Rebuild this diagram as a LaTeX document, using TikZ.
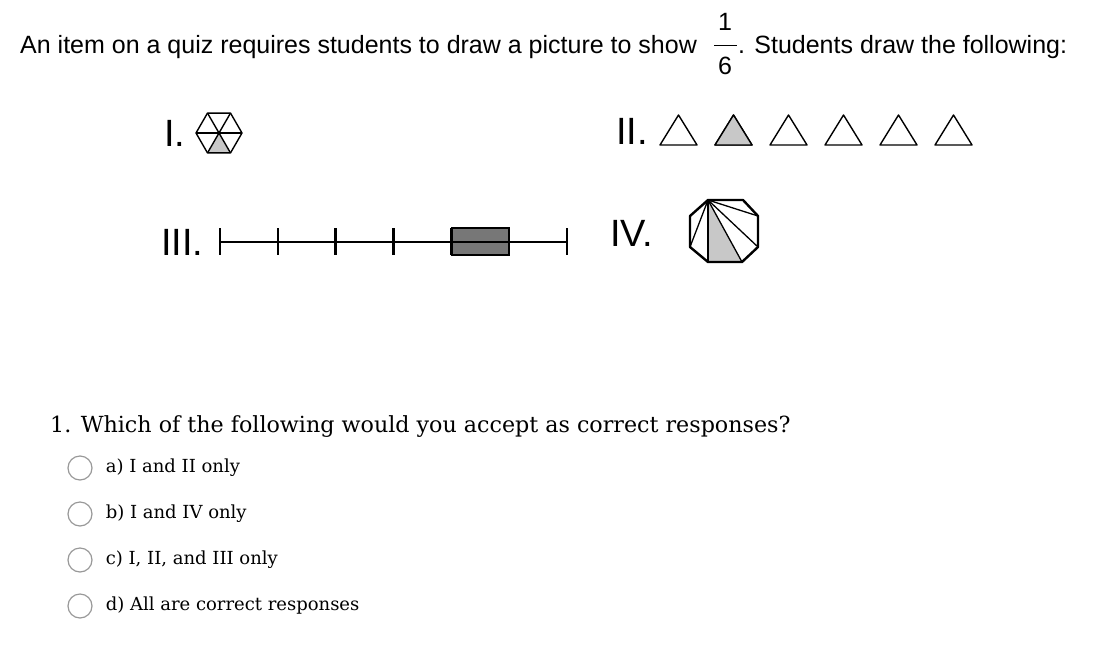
\documentclass[tikz,border=0pt]{standalone}
\usepackage{fontspec}
\setmainfont{Liberation Sans}
\newfontfamily\quizfont{DejaVu Serif}
\usetikzlibrary{positioning,calc}
\definecolor{lightshade}{HTML}{C8C8C8}
\definecolor{darkshade}{HTML}{777777}
\tikzstyle{fig} = [draw, line width=1.4pt, line join=round]
\tikzstyle{numeral} = [font=\fontsize{38}{38}\selectfont, inner sep=0pt, anchor=west]
\tikzstyle{txt} = [font=\fontsize{25}{28}\selectfont, inner sep=0pt, anchor=base west]
\tikzstyle{question} = [font=\quizfont\fontsize{22.2}{24}\selectfont, inner sep=0pt, anchor=base west]
\tikzstyle{radio} = [circle, draw=black!40, line width=1.2pt, minimum size=24pt, inner sep=0pt]
\tikzstyle{answer} = [font=\quizfont\fontsize{18}{20}\selectfont, inner sep=0pt, anchor=west]
\tikzset{>=latex}

\begin{document}
\begin{tikzpicture}[x=1pt,y=-1pt]
    \useasboundingbox (0,0) rectangle (1099,656);
    % the prompt
    \node [txt] (intro) at (20,53) {An item on a quiz requires students to draw a picture to show};
    \node [font=\fontsize{25}{28}\selectfont, inner sep=0pt] (num) at (725,22) {1};
    \draw [line width=1pt] (714,45) coordinate (fl) -- (737,45) coordinate (fr);
    \node [font=\fontsize{25}{28}\selectfont, inner sep=0pt] (den) at (725,66) {6};
    \node [txt] (rest) at (738,53) {. Students draw the following:};
    % I. hexagon
    \node [numeral] (one) at (164,133) {I.};
    \coordinate (h) at (219,133);
    \fill [lightshade] (h) -- ++(60:23) -- ($(h)+(120:23)$) -- cycle;
    \draw [fig] (h) ++(0:23) \foreach \a in {60,120,...,360} { -- ($(h)+(\a:23)$) } -- cycle;
    \foreach \a in {0,60,120} \draw [fig] ($(h)+(\a:23)$) -- ($(h)+(\a+180:23)$);
    % II. triangles
    \node [numeral] (two) at (616,131) {II.};
    \foreach \i in {0,...,5} {
      \draw [fig] (660+55*\i,145) coordinate (t\i) -- ++(37,0) -- ++(-18.5,-30) -- cycle;
    }
    \draw [fig, fill=lightshade] (t1) -- ++(37,0) -- ++(-18.5,-30) -- cycle;
    % III. number line
    \node [numeral] (three) at (161,242) {III.};
    \draw [fill=darkshade, line width=1.4pt] (452,228) rectangle (509,255);
    \draw [line width=2pt] (220,242) coordinate (la) -- (567,242) coordinate (lb);
    \foreach \i in {0,...,6} \draw [line width=2.4pt] (220+57.83*\i,228) -- ++(0,27);
    % IV. octagon
    \node [numeral] (four) at (610,233) {IV.};
    \coordinate (v1) at (708,200); \coordinate (v2) at (743,200);
    \coordinate (v3) at (758,216); \coordinate (v4) at (758,247);
    \coordinate (v5) at (742,262); \coordinate (v6) at (708,262);
    \coordinate (v7) at (690,247); \coordinate (v8) at (690,216);
    \fill [lightshade] (v1) -- (v6) -- (v5) -- cycle;
    \foreach \v in {3,...,7} \draw [line width=1.3pt] (v1) -- (v\v);
    \draw [line width=2.4pt, line join=round] (v1) -- (v2) -- (v3) -- (v4) -- (v5) -- (v6) -- (v7) -- (v8) -- cycle;
    % question and choices
    \node [question] (q) at (50,432) {1. Which of the following would you accept as correct responses?};
    \foreach \y/\t [count=\n] in {468/a) I and II only, 514/b) I and IV only, 560/{c) I, II, and III only}, 606/d) All are correct responses} {
      \node [radio] (r\n) at (80,\y) {};
      \node [answer, right=13pt of r\n] (a\n) {\t};
    }
\end{tikzpicture}
\end{document}
